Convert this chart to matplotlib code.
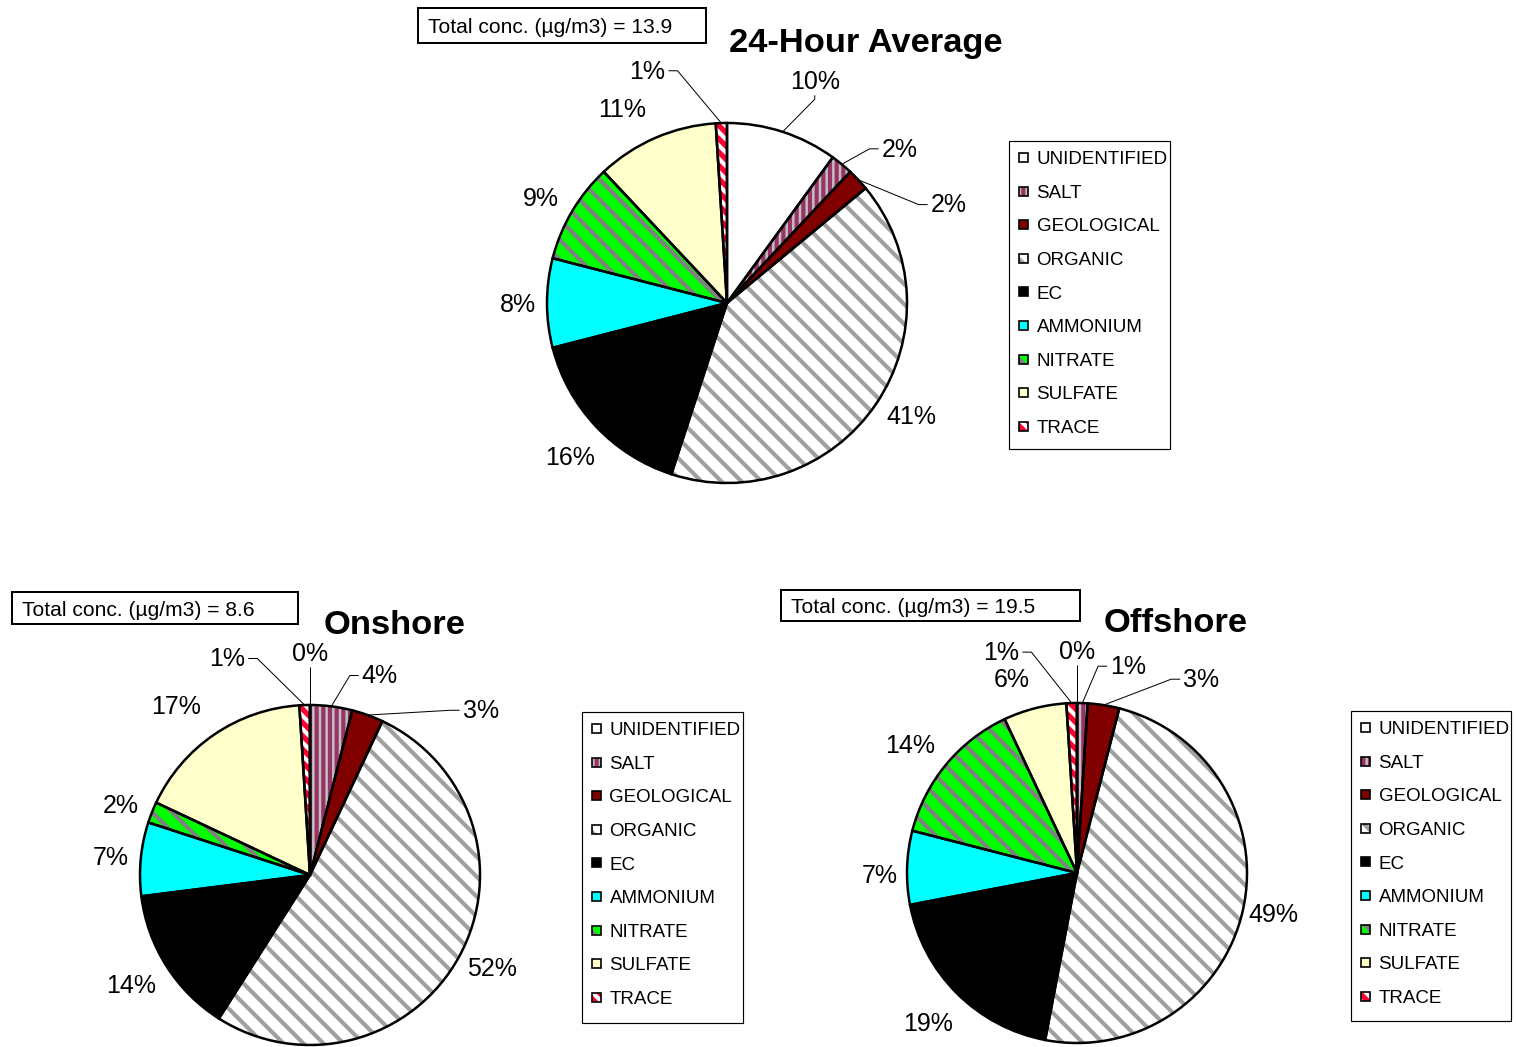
import matplotlib
matplotlib.use("Agg")
import matplotlib.pyplot as plt
from matplotlib.patches import Rectangle
import numpy as np

# ---------------------------------------------------------------- data
components = ["UNIDENTIFIED", "SALT", "GEOLOGICAL", "ORGANIC", "EC",
              "AMMONIUM", "NITRATE", "SULFATE", "TRACE"]

avg24_pct = [10, 2, 2, 41, 16, 8, 9, 11, 1]
onshore_pct = [0, 4, 3, 52, 14, 7, 2, 17, 1]
offshore_pct = [0, 1, 3, 49, 19, 7, 14, 6, 1]

avg24_total = 13.9
onshore_total = 8.6
offshore_total = 19.5

# ---------------------------------------------------------------- styles
face_colors = ["#FFFFFF", "#C0C0C0", "#800000", "#FFFFFF", "#000000",
               "#00FFFF", "#00FF00", "#FFFFCC", "#FF0033"]
stripe_colors = [None, "#993366", None, "#A0A0A0", None,
                 None, "#808080", None, "#FFFFFF"]
hatches = [None, "|||", None, "\\\\", None, None, "\\\\", None, "\\\\\\"]

W, H = 1516, 1047
DPI = 120

plt.rcParams["font.family"] = ["Liberation Sans", "DejaVu Sans"]
plt.rcParams["hatch.linewidth"] = 2.5


def fs(px):
    """font size in points for a given pixel em size"""
    return px * 72.0 / DPI


def Y(y):
    """flip a top-origin pixel row into the axes' y coordinate"""
    return H - y


PCT_PX = 25
TITLE_PX = 34.5
LEGEND_PX = 18.7
TOTAL_PX = 21

# label placement per slice: (angle nudge in degrees, distance / radius, leader line)
panels = [
    dict(title="24-Hour Average", values=avg24_pct, total=avg24_total,
         center=(727, 303), radius=180, title_xy=(866, 40),
         box=(418, 8, 706, 43), legend=(1009, 141, 161, 308),
         layout=[(-3.5, 1.33, True), (-8.4, 1.29, True), (-19, 1.35, True),
                 (3, 1.2, False), (1, 1.22, False), (0, 1.16, False),
                 (1, 1.19, False), (5, 1.23, False), (17, 1.37, True)]),
    dict(title="Onshore", values=onshore_pct, total=onshore_total,
         center=(310, 875), radius=170, title_xy=(395, 622),
         box=(12, 592, 298, 624), legend=(582, 712, 161, 311),
         layout=[(0, 1.31, True), (-12, 1.25, True), (-26, 1.40, True),
                 (2, 1.2, False), (-1, 1.23, False), (0, 1.18, False),
                 (1, 1.19, False), (4, 1.27, False), (19, 1.37, True)]),
    dict(title="Offshore", values=offshore_pct, total=offshore_total,
         center=(1077, 873), radius=170, title_xy=(1176, 620),
         box=(781, 590, 1080, 621), legend=(1351, 711, 160, 310),
         layout=[(0, 1.31, True), (-12, 1.26, True), (-23.5, 1.36, True),
                 (1, 1.18, False), (0, 1.24, False), (2, 1.16, False),
                 (2, 1.24, False), (4, 1.21, False), (17, 1.38, True)]),
]

fig = plt.figure(figsize=(W / DPI, H / DPI), dpi=DPI)
ax = fig.add_axes([0, 0, 1, 1])

leaders = []
for p in panels:
    cx, cy = p["center"]
    cyd = Y(cy)
    r = p["radius"]
    vals = p["values"]

    # filled, striped slices
    fills, _ = ax.pie(vals, center=(cx, cyd), radius=r, startangle=90,
                      counterclock=False, colors=face_colors,
                      wedgeprops=dict(linewidth=0))
    for w, sc, h in zip(fills, stripe_colors, hatches):
        if h:
            w.set_edgecolor(sc)
            w.set_hatch(h)
        w.set_linewidth(0)

    # black outlines on top
    outlines, _ = ax.pie(vals, center=(cx, cyd), radius=r, startangle=90,
                         counterclock=False,
                         wedgeprops=dict(fill=False, edgecolor="black",
                                         linewidth=1.5))

    # percentage labels
    for w, v, (nudge, dist, lead) in zip(outlines, vals, p["layout"]):
        mid = 0.5 * (w.theta1 + w.theta2)
        a = np.deg2rad(mid + nudge)
        lx = cx + dist * r * np.cos(a)
        ly = cyd + dist * r * np.sin(a)
        t = ax.text(lx, ly - 0.36 * PCT_PX, f"{v}%", ha="center",
                    va="baseline", fontsize=fs(PCT_PX))
        if lead:
            m = np.deg2rad(mid)
            leaders.append((t, (cx + r * np.cos(m), cyd + r * np.sin(m))))

    # title
    tx, ty = p["title_xy"]
    ax.text(tx, Y(ty) - 0.36 * TITLE_PX, p["title"], ha="center",
            va="baseline", fontsize=fs(TITLE_PX), fontweight="bold")

    # total concentration box
    x0, y0, x1, y1 = p["box"]
    ax.add_patch(Rectangle((x0, Y(y1)), x1 - x0, y1 - y0, fill=False,
                           edgecolor="black", linewidth=1.2))
    ax.text(x0 + 10, Y(0.5 * (y0 + y1)) - 0.36 * TOTAL_PX,
            f"Total conc. (\u00b5g/m3) = {p['total']}", ha="left",
            va="baseline", fontsize=fs(TOTAL_PX))

    # legend
    lx0, ly0, lw, lh = p["legend"]
    ax.add_patch(Rectangle((lx0, Y(ly0 + lh)), lw, lh, fill=False,
                           edgecolor="black", linewidth=0.7))
    for i, name in enumerate(components):
        rc = ly0 + 16.5 + i * 33.6
        ms = 9
        sq = Rectangle((lx0 + 9.5, Y(rc) - ms / 2), ms, ms,
                       facecolor=face_colors[i], linewidth=0)
        if hatches[i]:
            sq.set_edgecolor(stripe_colors[i])
            sq.set_hatch(hatches[i])
            sq.set_linewidth(0)
        ax.add_patch(sq)
        ax.add_patch(Rectangle((lx0 + 9.5, Y(rc) - ms / 2), ms, ms,
                               fill=False, edgecolor="black", linewidth=1.0))
        ax.text(lx0 + 27.5, Y(rc) - 0.36 * LEGEND_PX, name, ha="left",
                va="baseline", fontsize=fs(LEGEND_PX))

ax.set_xlim(0, W)
ax.set_ylim(0, H)
ax.set_aspect("auto")
ax.set_axis_off()

# leader lines from the slice edge to the moved labels
fig.canvas.draw()
renderer = fig.canvas.get_renderer()
inv = ax.transData.inverted()
for t, (px, py) in leaders:
    bb = t.get_window_extent(renderer)
    (bx0, by0), (bx1, by1) = inv.transform([[bb.x0, bb.y0], [bb.x1, bb.y1]])
    ymid = by0 + 0.45 * (by1 - by0) + 2
    if px > bx1 + 15:
        xs = [bx1 + 3, bx1 + 12, px]
        ys = [ymid, ymid, py]
    elif px < bx0 - 15:
        xs = [bx0 - 3, bx0 - 12, px]
        ys = [ymid, ymid, py]
    else:
        xm = 0.5 * (bx0 + bx1)
        xs = [xm, xm, px]
        ys = [by0 - 1, by0 - 5, py]
    ax.plot(xs, ys, color="black", linewidth=0.6, solid_capstyle="butt")

fig.savefig("out.png", dpi=DPI, facecolor="white")
